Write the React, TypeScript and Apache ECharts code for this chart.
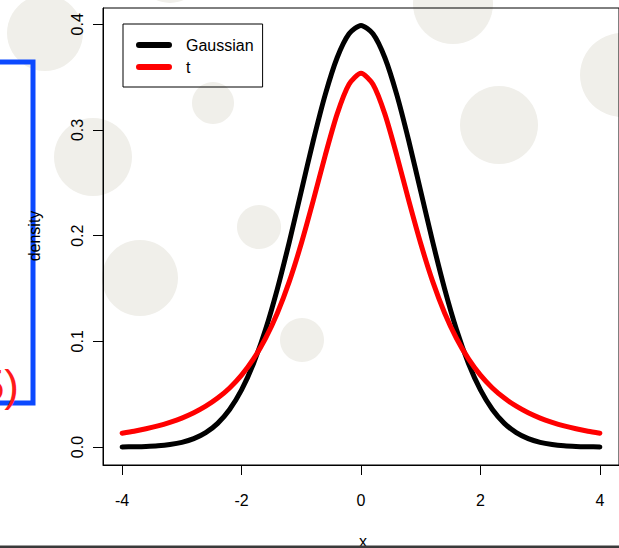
import React, { useEffect, useRef } from "react";
import * as echarts from "echarts";

// x grid of the density curves
const xs = [
  -4, -3.8, -3.6, -3.4, -3.2, -3, -2.8, -2.6, -2.4, -2.2, -2, -1.8, -1.6, -1.4, -1.2, -1, -0.8, -0.6, -0.4, -0.2,
  0, 0.2, 0.4, 0.6, 0.8, 1, 1.2, 1.4, 1.6, 1.8, 2, 2.2, 2.4, 2.6, 2.8, 3, 3.2, 3.4, 3.6, 3.8, 4,
];
// Gaussian density (black)
const gaussian = [
  0.0001, 0.0003, 0.0006, 0.0012, 0.0024, 0.0044, 0.0079, 0.0136, 0.0224, 0.0355, 0.054, 0.079, 0.1109, 0.1497,
  0.1942, 0.242, 0.2897, 0.3332, 0.3683, 0.391, 0.3989, 0.391, 0.3683, 0.3332, 0.2897, 0.242, 0.1942, 0.1497,
  0.1109, 0.079, 0.054, 0.0355, 0.0224, 0.0136, 0.0079, 0.0044, 0.0024, 0.0012, 0.0006, 0.0003, 0.0001,
];
// t density (red)
const tDensity = [
  0.0131, 0.015, 0.0173, 0.02, 0.0234, 0.0274, 0.0324, 0.0386, 0.0463, 0.0559, 0.068, 0.0834, 0.1027, 0.1269,
  0.1567, 0.1925, 0.2331, 0.2758, 0.315, 0.3432, 0.3536, 0.3432, 0.315, 0.2758, 0.2331, 0.1925, 0.1567, 0.1269,
  0.1027, 0.0834, 0.068, 0.0559, 0.0463, 0.0386, 0.0324, 0.0274, 0.0234, 0.02, 0.0173, 0.015, 0.0131,
];
const seriesNames = ["Gaussian", "t"];
const xTicks = [-4, -2, 0, 2, 4];
const yTicks = [0, 0.1, 0.2, 0.3, 0.4];

// decorative background discs of the slide: [cx, cy, r]
const discs = [
  [45, 33, 38],
  [93, 157, 39],
  [140, 278, 38],
  [170, -30, 33],
  [213, 103, 21],
  [259, 227, 22],
  [302, 340, 22],
  [453, 4, 40],
  [499, 125, 39],
  [622, 75, 42],
];

const FONT = "'Liberation Sans', Arial, Helvetica, sans-serif";
// thick rounded legend stroke inside a 36x16 box (tiny corner marks fix the box)
const LEGEND_ICON =
  "path://M0,0L0.01,0L0,0.01Z M3,5 L33,5 A3,3 0 0 1 33,11 L3,11 A3,3 0 0 1 3,5Z M36,16L35.99,16L36,15.99Z";

export default function App() {
  const ref = useRef<HTMLDivElement>(null);
  useEffect(() => {
    document.body.style.margin = "0";
    const chart = echarts.init(ref.current!, null, { renderer: "svg" });
    const circles = discs.map(([cx, cy, r]) => ({
      type: "circle",
      shape: { cx, cy, r },
      style: { fill: "#f0efea" },
      z: -10,
      silent: true,
    }));
    chart.setOption({
      animation: false,
      backgroundColor: "#ffffff",
      textStyle: { fontFamily: FONT },
      grid: {
        left: 103,
        top: 8,
        width: 521,
        height: 457,
        show: true,
        borderColor: "#000",
        borderWidth: 1,
        backgroundColor: "transparent",
      },
      legend: {
        data: seriesNames,
        orient: "vertical",
        left: 123,
        top: 24,
        padding: [13, 9, 12, 13],
        itemWidth: 36,
        itemHeight: 16,
        itemGap: 6,
        icon: LEGEND_ICON,
        borderColor: "#000",
        borderWidth: 1,
        borderRadius: 0,
        textStyle: { fontSize: 16, color: "#000", fontFamily: FONT, padding: [0, 0, 0, 9] },
      },
      xAxis: {
        type: "value",
        min: -4.32,
        max: 4.32,
        axisLine: { show: true, onZero: false, lineStyle: { color: "#000", width: 1 } },
        axisTick: { show: true, inside: false, length: 10, customValues: xTicks, lineStyle: { color: "#000" } },
        axisLabel: { customValues: xTicks, margin: 27, fontSize: 16, color: "#000", fontFamily: FONT },
        splitLine: { show: false },
      },
      yAxis: {
        type: "value",
        min: -0.017,
        max: 0.4154,
        axisLine: { show: true, onZero: false, lineStyle: { color: "#000", width: 1 } },
        axisTick: { show: true, inside: false, length: 10, customValues: yTicks, lineStyle: { color: "#000" } },
        axisLabel: {
          customValues: yTicks,
          rotate: 90,
          margin: 18,
          fontSize: 16,
          color: "#000",
          fontFamily: FONT,
          formatter: (v: number) => v.toFixed(1),
        },
        splitLine: { show: false },
      },
      series: [
        {
          name: seriesNames[0],
          type: "line",
          symbol: "none",
          smooth: 0.25,
          data: xs.map((x, i) => [x, gaussian[i]]),
          itemStyle: { color: "#000000" },
          lineStyle: { color: "#000000", width: 5, cap: "round", join: "round" },
          z: 3,
        },
        {
          name: seriesNames[1],
          type: "line",
          symbol: "none",
          smooth: 0.25,
          data: xs.map((x, i) => [x, tDensity[i]]),
          itemStyle: { color: "#ff0000" },
          lineStyle: { color: "#ff0000", width: 5, cap: "round", join: "round" },
          z: 4,
        },
      ],
      graphic: [
        ...circles,
        {
          type: "rect",
          shape: { x: -50, y: 62, width: 83, height: 341 },
          style: { fill: "none", stroke: "#0b49ff", lineWidth: 5 },
          z: 5,
          silent: true,
        },
        {
          type: "text",
          x: 19,
          y: 407,
          style: {
            text: "5)",
            fill: "#ff1a1a",
            font: `44px ${FONT}`,
            align: "right",
            verticalAlign: "bottom",
          },
          z: 6,
          silent: true,
        },
        {
          type: "text",
          x: 34,
          y: 236,
          rotation: Math.PI / 2,
          style: {
            text: "density",
            fill: "#000",
            font: `16px ${FONT}`,
            align: "center",
            verticalAlign: "middle",
          },
          z: 7,
          silent: true,
        },
        {
          type: "text",
          x: 363,
          y: 549,
          style: {
            text: "x",
            fill: "#000",
            font: `16px ${FONT}`,
            align: "center",
            verticalAlign: "bottom",
          },
          z: 7,
          silent: true,
        },
        {
          type: "rect",
          shape: { x: 0, y: 545.5, width: 619, height: 2.5 },
          style: { fill: "#3a3a3a" },
          z: 8,
          silent: true,
        },
      ],
    });
    return () => chart.dispose();
  }, []);
  return (
    <div
      ref={ref}
      style={{ position: "absolute", left: 0, top: 0, width: 619, height: 548 }}
    />
  );
}
